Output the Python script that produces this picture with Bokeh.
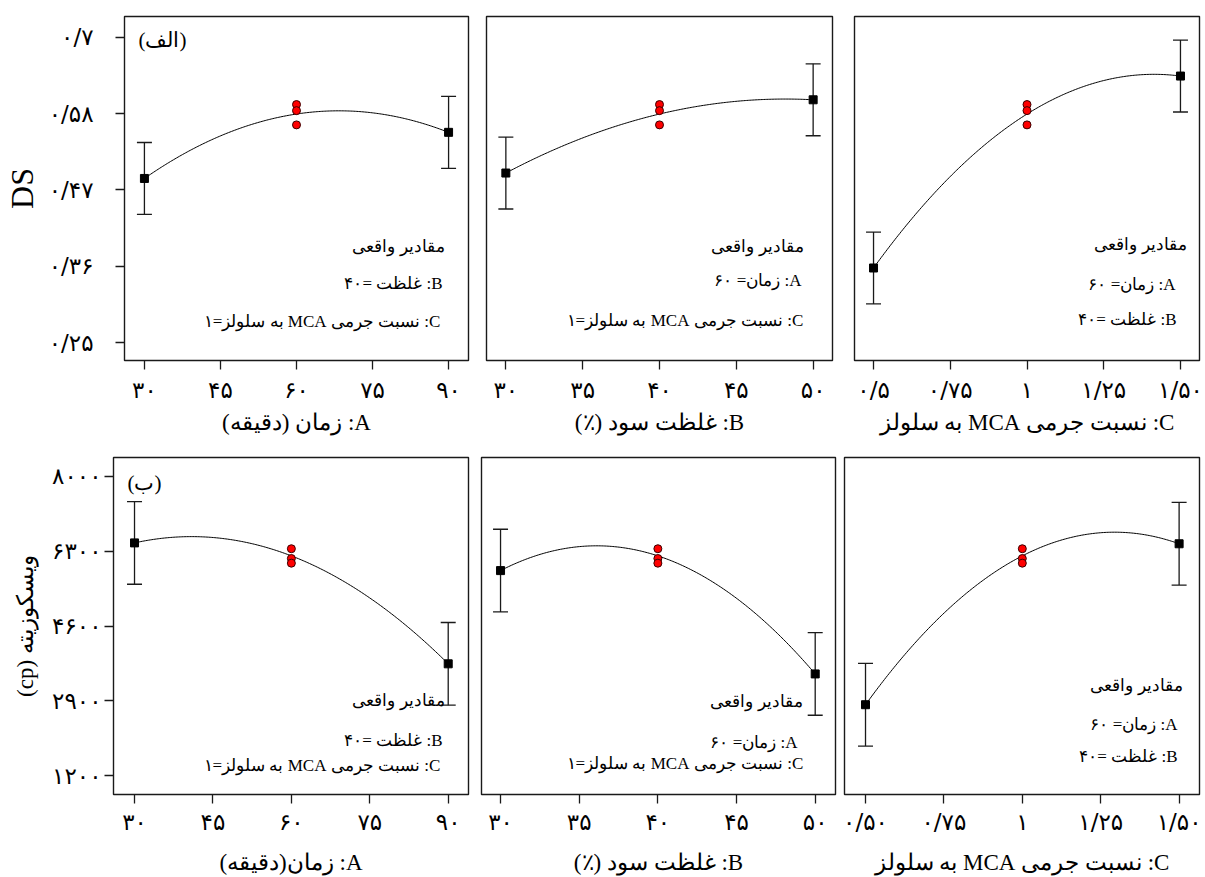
import numpy as np
from bokeh.plotting import figure
from bokeh.layouts import row, column
from bokeh.models import ColumnDataSource, Whisker, TeeHead, Label, FixedTicker, Range1d
from bokeh.embed import file_html
from bokeh.resources import INLINE

# ---------------------------------------------------------------- data
A_LEVELS = [30, 60, 90]          # time (min)
B_LEVELS = [30, 40, 50]          # NaOH concentration (%)
C_LEVELS = [0.5, 1.0, 1.5]       # MCA / cellulose mass ratio

# degree of substitution: model prediction at low / centre / high level
DS_PRED_A = [0.492, 0.587, 0.560]
DS_PRED_B = [0.500, 0.587, 0.608]
DS_PRED_C = [0.360, 0.587, 0.643]
DS_LSD = 0.053                   # half-width of the LSD bars
DS_CENTER_RUNS = [0.601, 0.592, 0.571]

# viscosity (cp)
VISC_PRED_A = [6490, 6195, 3740]
VISC_PRED_B = [5860, 6195, 3510]
VISC_PRED_C = [2810, 6195, 6470]
VISC_LSD = 940
VISC_CENTER_RUNS = [6357, 6135, 6029]

DS_TICKS = [0.25, 0.3625, 0.475, 0.5875, 0.7]
DS_TICK_LABELS = ["0/25", "0/36", "0/47", "0/58", "0/7"]
VISC_TICKS = [1200, 2900, 4600, 6300, 8000]
VISC_TICK_LABELS = ["1200", "2900", "4600", "6300", "8000"]
A_TICKS = [30, 45, 60, 75, 90]
A_TICK_LABELS = ["30", "45", "60", "75", "90"]
B_TICKS = [30, 35, 40, 45, 50]
B_TICK_LABELS = ["30", "35", "40", "45", "50"]
C_TICKS = [0.5, 0.75, 1.0, 1.25, 1.5]
C_TICK_LABELS_TOP = ["0/5", "0/75", "1", "1/25", "1/50"]
C_TICK_LABELS_BOTTOM = ["0/50", "0/75", "1", "1/25", "1/50"]

# ---------------------------------------------------------------- helpers
FA = str.maketrans("0123456789", "۰۱۲۳۴۵۶۷۸۹")


def fa(s):
    return s.translate(FA)


def rtl(s):
    # right-to-left embedding so that Persian labels read correctly
    return "\u202b" + s + "\u202c"


ACTUAL = rtl("مقادیر واقعی")
NOTE_A = rtl(fa("A: زمان= 60"))
NOTE_B = rtl(fa("B: غلظت =40"))
NOTE_C = rtl(fa("C: نسبت جرمی MCA  به سلولز=1"))

INK = "#1a1a1a"
SERIF = "Liberation Serif"
TICK_FONT = "23px"
NOTE_FONT = "17px"


def quad_curve(levels, pred, n=200):
    """Quadratic response through the predictions at the coded levels -1, 0, +1."""
    lo, mid, hi = pred
    t = np.linspace(-1, 1, n)
    y = mid + (hi - lo) / 2 * t + ((lo + hi) / 2 - mid) * t ** 2
    x = levels[1] + t * (levels[2] - levels[1])
    return x, y


def panel(width, height, borders, xr, yr, frame_w, frame_h,
          levels, pred, lsd, center_runs,
          xticks, xlabels, yticks, ylabels, show_y,
          xtitle, ytitle, x_std, x_title_std, y_std, y_title_std,
          notes, tag=None):
    bl, br, bt, bb = borders
    p = figure(width=width, height=height, output_backend="svg", toolbar_location=None,
               x_range=Range1d(*xr), y_range=Range1d(*yr),
               min_border_left=bl, min_border_right=br,
               min_border_top=bt, min_border_bottom=bb,
               background_fill_color="white", border_fill_color="white")
    p.grid.visible = False
    p.outline_line_color = INK
    p.outline_line_width = 1.4

    # x axis
    ax = p.xaxis[0]
    ax.ticker = FixedTicker(ticks=xticks)
    ax.major_label_overrides = {t: fa(l) for t, l in zip(xticks, xlabels)}
    ax.axis_line_color = None
    ax.major_tick_out = 9
    ax.major_tick_in = 0
    ax.minor_tick_out = 0
    ax.minor_tick_in = 0
    ax.major_tick_line_color = INK
    ax.major_tick_line_width = 1.3
    ax.major_label_text_font = "DejaVu Sans"
    ax.major_label_text_font_size = TICK_FONT
    ax.major_label_text_color = "black"
    ax.major_label_standoff = x_std
    ax.axis_label = rtl(xtitle)
    ax.axis_label_text_font = SERIF
    ax.axis_label_text_font_style = "normal"
    ax.axis_label_text_font_size = "23px"
    ax.axis_label_text_color = "black"
    ax.axis_label_standoff = x_title_std

    ay = p.yaxis[0]
    if show_y:
        ay.ticker = FixedTicker(ticks=yticks)
        ay.major_label_overrides = {t: fa(l) for t, l in zip(yticks, ylabels)}
        ay.axis_line_color = None
        ay.major_tick_out = 9
        ay.major_tick_in = 0
        ay.minor_tick_out = 0
        ay.minor_tick_in = 0
        ay.major_tick_line_color = INK
        ay.major_tick_line_width = 1.3
        ay.major_label_text_font = "DejaVu Sans"
        ay.major_label_text_font_size = TICK_FONT
        ay.major_label_text_color = "black"
        ay.major_label_standoff = y_std
        ay.axis_label = ytitle
        ay.axis_label_text_font = SERIF
        ay.axis_label_text_font_style = "normal"
        ay.axis_label_text_color = "black"
        ay.axis_label_standoff = y_title_std
    else:
        ay.visible = False

    # fitted response
    cx, cy = quad_curve(levels, pred)
    p.line(cx, cy, line_color="black", line_width=1.0)

    # predicted values at the extreme levels with LSD bars
    ends = ColumnDataSource(dict(
        x=[levels[0], levels[2]],
        y=[pred[0], pred[2]],
        lo=[pred[0] - lsd, pred[2] - lsd],
        hi=[pred[0] + lsd, pred[2] + lsd],
    ))
    p.add_layout(Whisker(source=ends, base="x", upper="hi", lower="lo", dimension="height",
                         line_color=INK, line_width=1.3,
                         upper_head=TeeHead(size=15, line_color=INK, line_width=1.3),
                         lower_head=TeeHead(size=15, line_color=INK, line_width=1.3)))
    p.scatter("x", "y", source=ends, marker="square", size=8, color="black")

    # replicated centre-point runs
    p.scatter([levels[1]] * len(center_runs), center_runs, marker="circle", size=8,
              fill_color="red", line_color="#3a0000", line_width=1)

    # notes, positioned in pixels from the frame's top-right corner
    x0, x1 = xr
    y0, y1 = yr
    for dx, dy, txt in notes:
        p.add_layout(Label(x=x1 - dx / frame_w * (x1 - x0), y=y1 - dy / frame_h * (y1 - y0),
                           text=txt, text_align="right", text_baseline="middle",
                           text_font=SERIF, text_font_size=NOTE_FONT, text_color="black"))
    if tag is not None:
        dx, dy, txt = tag
        p.add_layout(Label(x=x0 + dx / frame_w * (x1 - x0), y=y1 - dy / frame_h * (y1 - y0),
                           text=txt, text_align="left", text_baseline="middle",
                           text_font=SERIF, text_font_size="21px", text_color="black"))
    return p


DS_RANGE = (0.2236, 0.7308)
VISC_RANGE = (768, 8432)

# ---------------------------------------------------------------- top row: DS
p1 = panel(477, 437, (123, 9, 16, 75), (26.07, 93.93), DS_RANGE, 345, 346,
           A_LEVELS, DS_PRED_A, DS_LSD, DS_CENTER_RUNS,
           A_TICKS, A_TICK_LABELS, DS_TICKS, DS_TICK_LABELS, True,
           "A: زمان (دقیقه)", "DS", 7, 4, 22, 6,
           [(24, 231, ACTUAL), (26, 269, NOTE_B), (24, 307, NOTE_C)],
           tag=(14, 24, rtl("(الف)")))
p1.yaxis[0].axis_label_text_font_size = "32px"

p2 = panel(366, 437, (9, 11, 16, 75), (28.74, 51.26), DS_RANGE, 346, 346,
           B_LEVELS, DS_PRED_B, DS_LSD, DS_CENTER_RUNS,
           B_TICKS, B_TICK_LABELS, DS_TICKS, DS_TICK_LABELS, False,
           "B: غلظت سود (٪)", "", 7, 4, 0, 0,
           [(29, 231, ACTUAL), (31, 266, NOTE_A), (25, 306, NOTE_C)])

p3 = panel(362, 437, (11, 6, 16, 75), (0.438, 1.562), DS_RANGE, 345, 346,
           C_LEVELS, DS_PRED_C, DS_LSD, DS_CENTER_RUNS,
           C_TICKS, C_TICK_LABELS_TOP, DS_TICKS, DS_TICK_LABELS, False,
           "C: نسبت جرمی MCA به سلولز", "", 7, 4, 0, 0,
           [(13, 229, ACTUAL), (24, 270, NOTE_A), (23, 305, NOTE_B)])

# ---------------------------------------------------------------- bottom row: viscosity
p4 = panel(477, 440, (113, 9, 20, 83), (25.98, 93.88), VISC_RANGE, 355, 337,
           A_LEVELS, VISC_PRED_A, VISC_LSD, VISC_CENTER_RUNS,
           A_TICKS, A_TICK_LABELS, VISC_TICKS, VISC_TICK_LABELS, True,
           "A: زمان(دقیقه)", rtl("ویسکوزیته (cp)"), 5, 12, 3, 11,
           [(24, 243, ACTUAL), (26, 283, NOTE_B), (24, 308, NOTE_C)],
           tag=(14, 25, rtl("(ب)")))
p4.yaxis[0].axis_label_text_font_size = "23px"

p5 = panel(363, 440, (4, 5, 20, 83), (28.79, 51.29), VISC_RANGE, 354, 337,
           B_LEVELS, VISC_PRED_B, VISC_LSD, VISC_CENTER_RUNS,
           B_TICKS, B_TICK_LABELS, VISC_TICKS, VISC_TICK_LABELS, False,
           "B: غلظت سود (٪)", "", 5, 12, 0, 0,
           [(33, 244, ACTUAL), (38, 285, NOTE_A), (28, 306, NOTE_C)])

p6 = panel(365, 440, (4, 6, 20, 83), (0.433, 1.565), VISC_RANGE, 355, 337,
           C_LEVELS, VISC_PRED_C, VISC_LSD, VISC_CENTER_RUNS,
           C_TICKS, C_TICK_LABELS_BOTTOM, VISC_TICKS, VISC_TICK_LABELS, False,
           "C: نسبت جرمی MCA به سلولز", "", 5, 12, 0, 0,
           [(17, 228, ACTUAL), (22, 267, NOTE_A), (22, 299, NOTE_B)])

layout = column(row(p1, p2, p3), row(p4, p5, p6))

with open("out.html", "w") as f:
    f.write(file_html(layout, INLINE))
